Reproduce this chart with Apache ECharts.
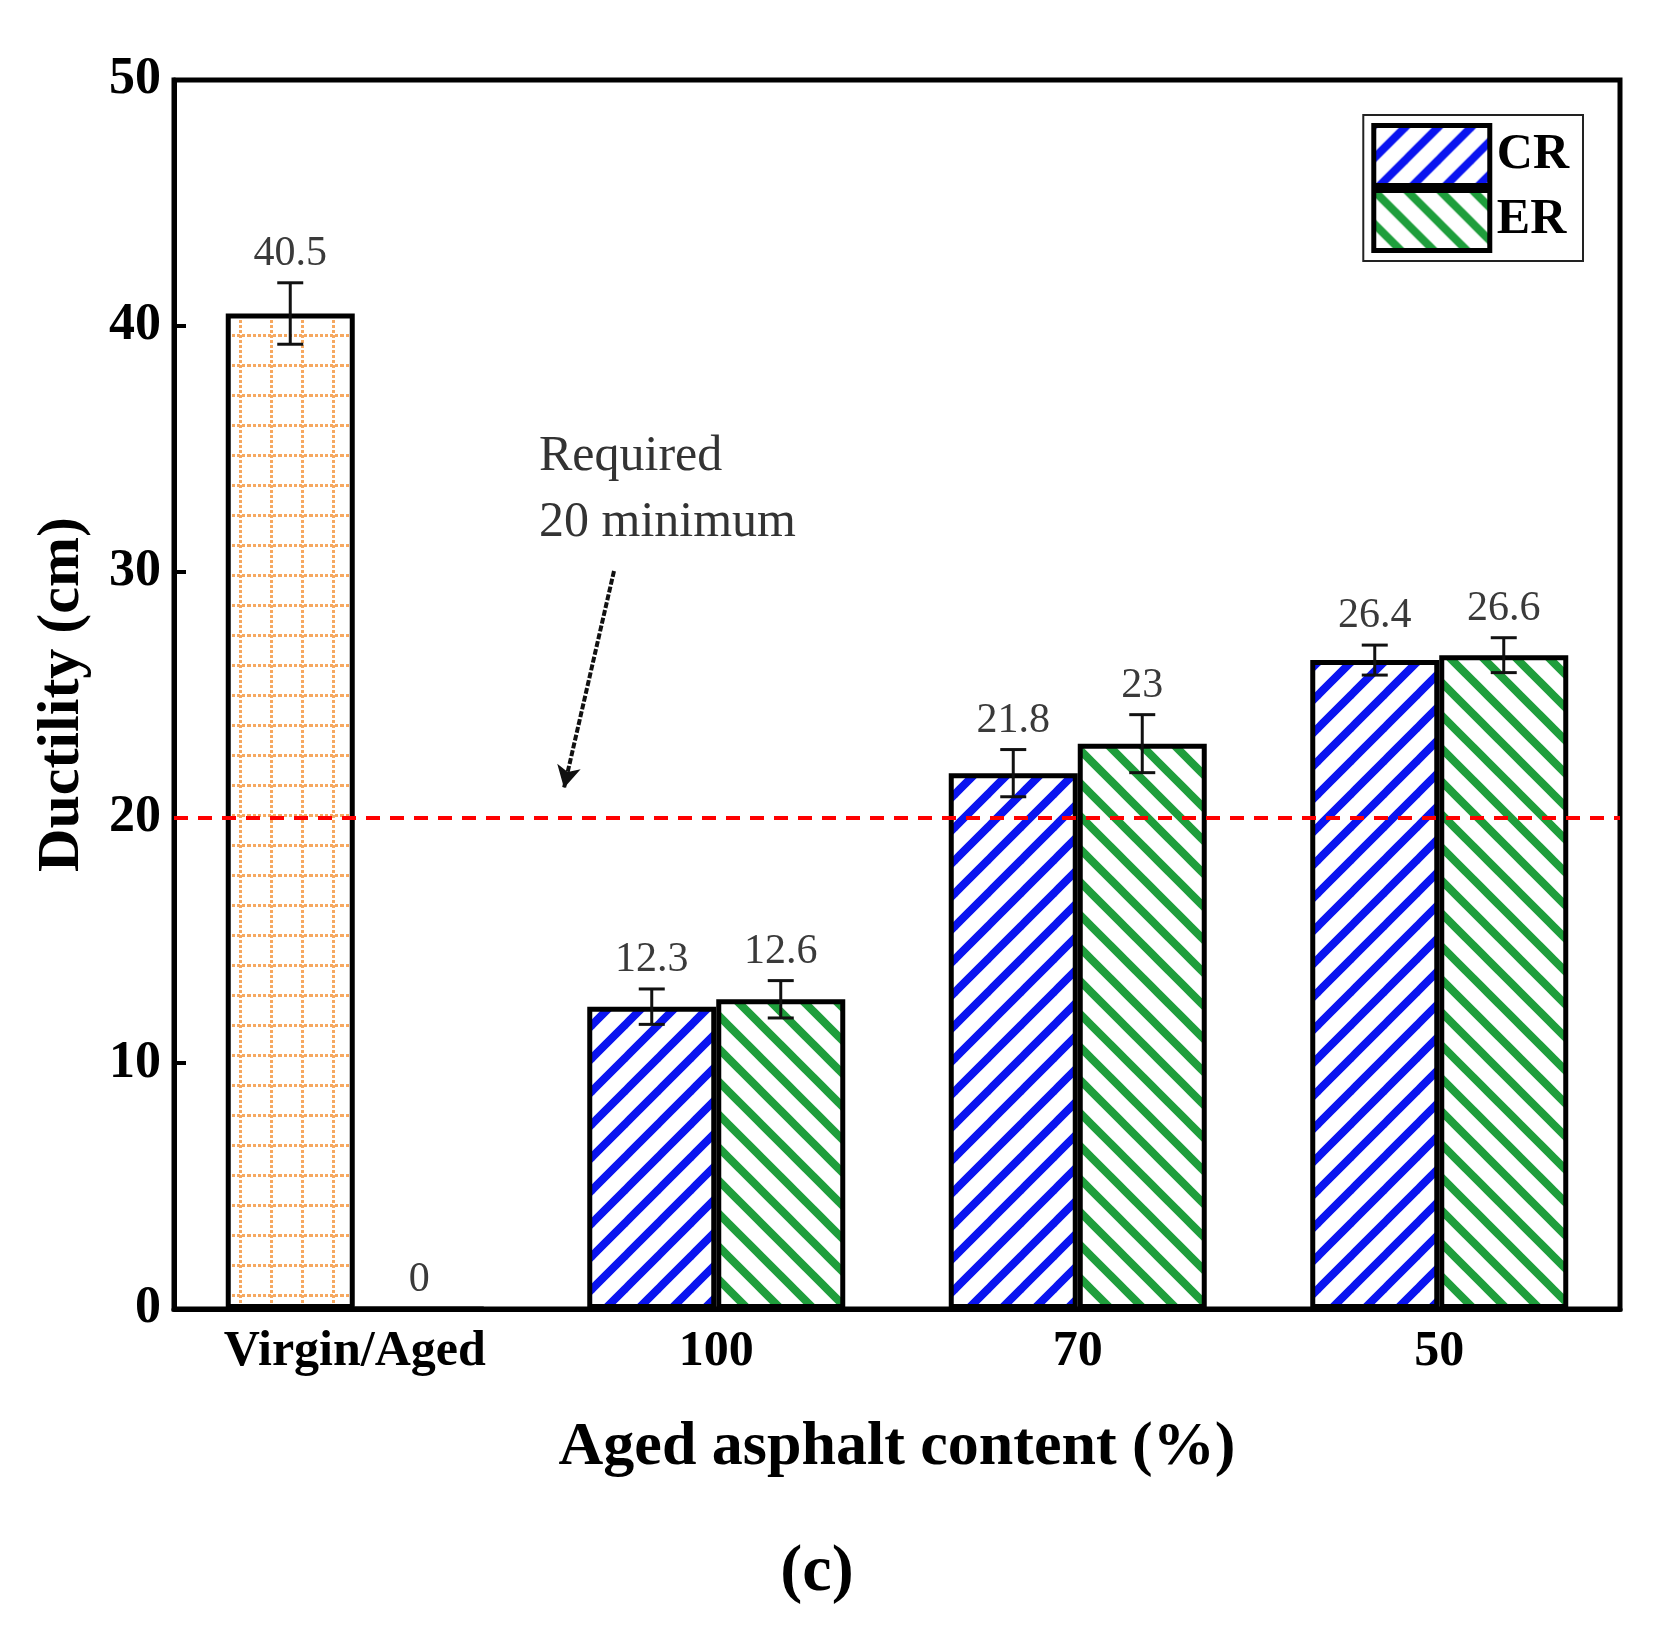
<!DOCTYPE html>
<html>
<head>
<meta charset="utf-8">
<script src="https://cdn.jsdelivr.net/npm/echarts@6/dist/echarts.min.js"></script>
<style>
html,body{margin:0;padding:0;background:#fff;}
#chart{width:1680px;height:1635px;}
</style>
</head>
<body>
<div id="chart"></div>
<script>
// ---- data ----
const categories = ['Virgin/Aged', '100', '70', '50'];
const crValues = [40.5, 12.3, 21.8, 26.4];   // first item: Virgin
const erValues = [0, 12.6, 23, 26.6];        // first item: Aged
const crErrors = [1.25, 0.72, 0.96, 0.61];
const erErrors = [0, 0.76, 1.18, 0.71];
const requiredMin = 20;
const yMin = 0, yMax = 50, yStep = 10;

// ---- styles ----
const SERIF = '"Liberation Serif", "Times New Roman", serif';
const BAR_W = 129;

function stripeTile(color, dir) {
  const P = 33;
  const c = document.createElement('canvas');
  c.width = P; c.height = P;
  const g = c.getContext('2d');
  g.fillStyle = '#fff'; g.fillRect(0, 0, P, P);
  g.strokeStyle = color; g.lineWidth = 8; g.lineCap = 'square';
  for (let k = -1; k <= 1; k++) {
    g.beginPath();
    if (dir === '/') { g.moveTo(k * P, P); g.lineTo(k * P + P, 0); }
    else { g.moveTo(k * P, 0); g.lineTo(k * P + P, P); }
    g.stroke();
  }
  return c;
}
function gridTile(color) {
  const W = 31, H = 30;
  const c = document.createElement('canvas');
  c.width = W; c.height = H;
  const g = c.getContext('2d');
  g.fillStyle = '#fff'; g.fillRect(0, 0, W, H);
  g.fillStyle = color;
  for (let x = 0; x < W; x += 5) g.fillRect(x, 4, 3, 3);
  for (let y = 0; y < H; y += 5) g.fillRect(22, y, 3, 3);
  return c;
}
const crFill = { image: stripeTile('#0a14f0', '/'), repeat: 'repeat' };
const erFill = { image: stripeTile('#1f9e3c', '\\'), repeat: 'repeat' };
const virginFill = { image: gridTile('#f6a860'), repeat: 'repeat' };

function errorSeries(values, errors, side) {
  return {
    type: 'custom',
    silent: true,
    z: 10,
    data: values.map((v, i) => [i, v, errors[i]]),
    renderItem: function (params, api) {
      const i = api.value(0), v = api.value(1), e = api.value(2);
      const c = api.coord([i, v]);
      const x = c[0] + side * BAR_W / 2;
      const top = api.coord([i, v + e])[1];
      const bot = api.coord([i, v - e])[1];
      const children = [];
      const ls = { stroke: '#111', lineWidth: 3 };
      if (e > 0) {
        children.push({ type: 'line', shape: { x1: x, y1: top, x2: x, y2: bot }, style: ls });
        children.push({ type: 'line', shape: { x1: x - 13, y1: top, x2: x + 13, y2: top }, style: ls });
        children.push({ type: 'line', shape: { x1: x - 13, y1: bot, x2: x + 13, y2: bot }, style: ls });
      }
      children.push({
        type: 'text',
        style: {
          text: String(v), x: x, y: top - 29,
          textAlign: 'center', textVerticalAlign: 'middle',
          font: '42px ' + SERIF, fill: '#3a3a3a'
        }
      });
      return { type: 'group', children: children };
    }
  };
}

const chart = echarts.init(document.getElementById('chart'), null, { renderer: 'canvas' });
chart.setOption({
  animation: false,
  backgroundColor: '#fff',
  grid: { left: 174, right: 60, top: 80, bottom: 326, show: true, borderColor: '#000', borderWidth: 5, backgroundColor: 'transparent' },
  legend: {
    data: ['CR', 'ER'],
    orient: 'vertical',
    right: 97, top: 115,
    icon: 'rect',
    itemWidth: 116, itemHeight: 60, itemGap: 0,
    padding: [8, 14, 8, 8],
    borderColor: '#222', borderWidth: 2,
    backgroundColor: '#fff',
    itemStyle: { borderColor: '#000', borderWidth: 5 },
    textStyle: { fontFamily: SERIF, fontWeight: 'bold', fontSize: 50, color: '#000', padding: [0, 0, 0, 2] },
    selectedMode: false
  },
  xAxis: {
    type: 'category',
    data: categories,
    name: 'Aged asphalt content (%)',
    nameLocation: 'middle',
    nameGap: 108,
    nameTextStyle: { fontFamily: SERIF, fontWeight: 'bold', fontSize: 62, color: '#000' },
    axisLine: { lineStyle: { color: '#000', width: 5 } },
    axisTick: { show: false },
    axisLabel: { fontFamily: SERIF, fontWeight: 'bold', fontSize: 50, color: '#000', margin: 18 },
    splitLine: { show: false }
  },
  yAxis: {
    type: 'value',
    min: yMin, max: yMax, interval: yStep,
    name: 'Ductility (cm)',
    nameLocation: 'middle',
    nameGap: 82,
    nameTextStyle: { fontFamily: SERIF, fontWeight: 'bold', fontSize: 60, color: '#000' },
    axisLine: { show: true, lineStyle: { color: '#000', width: 5 } },
    axisTick: { show: true, inside: true, length: 12, lineStyle: { color: '#000', width: 4 } },
    axisLabel: { fontFamily: SERIF, fontWeight: 'bold', fontSize: 52, color: '#000', margin: 13 },
    splitLine: { show: false }
  },
  series: [
    {
      name: 'CR', type: 'bar', barWidth: BAR_W, barGap: '0%',
      itemStyle: { color: crFill, borderColor: '#000', borderWidth: 5 },
      data: crValues.map((v, i) => i === 0 ? { value: v, itemStyle: { color: virginFill } } : v),
      markLine: {
        silent: true, symbol: 'none',
        label: { show: false },
        lineStyle: { color: '#ff0000', type: [14, 10], width: 4 },
        data: [{ yAxis: requiredMin }]
      }
    },
    {
      name: 'ER', type: 'bar', barWidth: BAR_W, barGap: '0%',
      itemStyle: { color: erFill, borderColor: '#000', borderWidth: 5 },
      data: erValues,
      markLine: {
        silent: true, symbol: ['none', 'arrow'], symbolSize: [18, 22],
        label: { show: false },
        lineStyle: { color: '#111', type: [6, 2], width: 4 },
        data: [[{ x: 614, y: 571 }, { x: 564, y: 788 }]]
      }
    },
    errorSeries(crValues, crErrors, -1),
    errorSeries(erValues, erErrors, 1)
  ],
  graphic: [
    {
      type: 'text', left: 539, top: 424, silent: true,
      style: { text: 'Required\n20 minimum', font: '50px ' + SERIF, fill: '#333', lineHeight: 66 }
    },
    {
      type: 'text', silent: true, x: 817, y: 1573,
      style: { text: '(c)', font: 'bold 66px ' + SERIF, fill: '#000', textAlign: 'center', textVerticalAlign: 'middle' }
    }
  ]
});
</script>
</body>
</html>
